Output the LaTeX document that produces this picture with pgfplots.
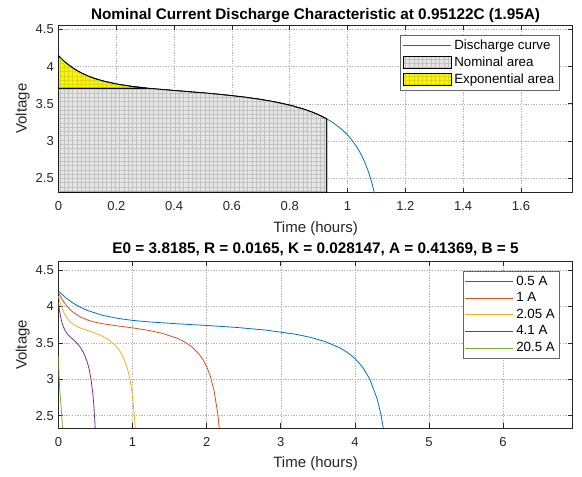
\documentclass[border=0pt]{standalone}
\usepackage{fontspec}
\setmainfont{Liberation Sans}
\usepackage{pgfplots}
\pgfplotsset{compat=1.18}
\usetikzlibrary{patterns.meta}
\definecolor{mblue}{rgb}{0,0.447,0.741}
\definecolor{morange}{rgb}{0.85,0.325,0.098}
\definecolor{myellow}{rgb}{0.929,0.694,0.125}
\definecolor{mpurple}{rgb}{0.494,0.184,0.556}
\definecolor{mgreen}{rgb}{0.466,0.674,0.188}
\definecolor{axisgray}{rgb}{0.15,0.15,0.15}
\definecolor{nomgray}{rgb}{0.9,0.9,0.9}
\definecolor{nomline}{rgb}{0.76,0.76,0.76}
\definecolor{expline}{rgb}{0.85,0.85,0.1}
\pgfplotsset{mystyle/.style={
  scale only axis, width=385.65pt, anchor=south west,
  axis line style={color=axisgray, line width=0.5pt},
  tick style={color=axisgray, line width=0.5pt},
  tick align=inside, xtick pos=both, ytick pos=both, major tick length=3.5pt,
  grid=major, major grid style={gray!60, line width=0.4pt, dash pattern=on 1pt off 1pt},
  ticklabel style={font=\fontsize{9.75}{11}\selectfont, color=axisgray},
  xticklabel style={yshift=-3.5pt},
  /pgf/number format/assume math mode=true,
  xlabel style={font=\fontsize{11.25}{13}\selectfont, color=axisgray, yshift=-1pt},
  ylabel style={font=\fontsize{11.25}{13}\selectfont, color=axisgray, yshift=-2.4pt},
  title style={font=\fontsize{11.5}{13}\selectfont\bfseries},
  legend style={font=\fontsize{10}{12}\selectfont, draw=black!60, line width=0.5pt, fill=white,
     inner sep=1.5pt, row sep=0pt, legend cell align=left},
  legend image code/.code={\draw[##1] (0pt,0pt) -- (36pt,0pt);},
  every axis plot/.append style={line width=0.6pt},
}}
\pgfplotsset{arealegend/.style={legend image code/.code={\draw[##1] (0pt,-4.5pt) rectangle (36pt,4.5pt);}}}
\begin{document}
\begin{tikzpicture}
\useasboundingbox (0,0) rectangle (436.5pt,357.75pt);
\begin{axis}[mystyle, at={(43.875pt,213.525pt)}, height=125.475pt,
  xmin=0, xmax=1.779, ymin=2.312, ymax=4.558,
  xtick={0,0.2,0.4,0.6,0.8,1,1.2,1.4,1.6}, ytick={2.5,3,3.5,4,4.5},
  title={Nominal Current Discharge Characteristic at 0.95122C (1.95A)},
  title style={yshift=-7.5pt},
  xlabel={Time (hours)}, ylabel={Voltage},
  legend style={at={(0.974,0.94)}, anchor=north east}]
\addplot[mblue] coordinates {
(0,4.1451) (0.02,4.06978) (0.035,4.02187) (0.05,3.9803) (0.065,3.94399) (0.08,3.9124)
(0.1,3.8764) (0.12,3.84673) (0.15,3.8099) (0.2,3.7660) (0.25,3.7355) (0.3,3.7130)
(0.35,3.69479) (0.4,3.6787) (0.45,3.66313) (0.5,3.6470) (0.55,3.62945) (0.6,3.6096)
(0.65,3.58638) (0.7,3.5587) (0.75,3.52479) (0.8,3.4822) (0.85,3.4269) (0.88,3.38504)
(0.9,3.3523) (0.93,3.2935) (0.95,3.2459) (0.98,3.15713) (1.0,3.0819) (1.01,3.03786)
(1.03,2.9327) (1.04,2.86908) (1.05,2.7961) (1.06,2.71145) (1.07,2.6120) (1.075,2.55548)
(1.08,2.4934) (1.085,2.42542) (1.09,2.3501) (1.095,2.2663)};
\addlegendentry{Discharge curve}
\addplot[arealegend, draw=black, fill=nomgray,
  postaction={pattern={Hatch[angle=0,distance=3.2pt,line width=0.3pt]}, pattern color=nomline}]
  coordinates {
(0,2.312) (0,3.71) (0.305,3.71) (0.35,3.69479) (0.4,3.6787) (0.45,3.66313) (0.5,3.6470)
(0.55,3.62945) (0.6,3.6096) (0.65,3.58638) (0.7,3.5587) (0.75,3.52479) (0.8,3.4822)
(0.85,3.4269) (0.88,3.38504) (0.9,3.3523) (0.928,3.29781) (0.928,2.312)} -- cycle;
\addlegendentry{Nominal area}
\addplot[arealegend, draw=black, fill=yellow,
  postaction={pattern={Hatch[angle=0,distance=3.2pt,line width=0.3pt]}, pattern color=expline}]
  coordinates {
(0,3.71) (0,4.1451) (0.02,4.06978) (0.035,4.02187) (0.05,3.9803) (0.065,3.94399)
(0.08,3.9124) (0.1,3.8764) (0.12,3.84673) (0.15,3.8099) (0.2,3.7660) (0.25,3.7355)
(0.3,3.7130) (0.305,3.71)} -- cycle;
\addlegendentry{Exponential area}
\end{axis}
\begin{axis}[mystyle, at={(43.875pt,36.75pt)}, height=124.725pt,
  xmin=0, xmax=6.94, ymin=2.331, ymax=4.614,
  xtick={0,1,2,3,4,5,6}, ytick={2.5,3,3.5,4,4.5},
  title={E0 = 3.8185, R = 0.0165, K = 0.028147, A = 0.41369, B = 5},
  title style={yshift=-5pt},
  xlabel={Time (hours)}, ylabel={Voltage},
  legend style={at={(0.975,0.944)}, anchor=north east}]
\addplot[mblue] coordinates {
(0,4.20987) (0.1,4.11661) (0.2,4.04352) (0.3,3.98609) (0.4,3.94087) (0.6,3.87668)
(0.8,3.83560) (1.0,3.80829) (1.2,3.78903) (1.6,3.76185) (2.0,3.73859) (2.4,3.71170)
(2.8,3.67487) (3.2,3.61808) (3.4,3.57575) (3.6,3.51702) (3.8,3.42963) (3.9,3.36776)
(4.0,3.2859) (4.1,3.17255) (4.2,3.00524) (4.3,2.73334) (4.35,2.52189) (4.38,2.35272)
(4.39,2.28652)};
\addlegendentry{0.5 A}
\addplot[morange] coordinates {
(0,4.18754) (0.05,4.09397) (0.1,4.02056) (0.15,3.96279) (0.2,3.91721) (0.3,3.85226)
(0.4,3.81033) (0.5,3.78208) (0.6,3.76176) (0.8,3.73207) (1.0,3.70552) (1.2,3.67416)
(1.4,3.6309) (1.6,3.56404) (1.7,3.51421) (1.8,3.44503) (1.9,3.34209) (1.95,3.2692)
(2.0,3.17278) (2.05,3.03926) (2.1,2.84218) (2.15,2.5219) (2.175,2.27282)};
\addlegendentry{1 A}
\addplot[myellow] coordinates {
(0,4.14067) (0.02439,4.04644) (0.04878,3.97234) (0.07317,3.91387) (0.09756,3.86754)
(0.14634,3.80097) (0.19512,3.75727) (0.2439,3.72703) (0.29268,3.70451) (0.39024,3.66954)
(0.4878,3.63608) (0.58537,3.59533) (0.68293,3.53855) (0.78049,3.45056) (0.82927,3.38497)
(0.87805,3.29384) (0.92683,3.15825) (0.95122,3.06224) (0.97561,2.93523) (1.0,2.75935)
(1.02439,2.49976) (1.03659,2.31733) (1.03902,2.27478)};
\addlegendentry{2.05 A}
\addplot[mpurple] coordinates {
(0,4.04914) (0.0122,3.95363) (0.02439,3.8782) (0.03659,3.81833) (0.04878,3.77054)
(0.07317,3.70083) (0.09756,3.65365) (0.12195,3.61956) (0.14634,3.59274) (0.19512,3.54744)
(0.2439,3.50051) (0.29268,3.44142) (0.34146,3.35825) (0.39024,3.22900) (0.41463,3.13263)
(0.43902,2.99866) (0.46341,2.79931) (0.47561,2.65816) (0.4878,2.47144) (0.49512,2.3274)
(0.5,2.21786)};
\addlegendentry{4.1 A}
\addplot[mgreen] coordinates {
(0,3.31693) (0.004878,3.1251) (0.009756,2.99457) (0.014634,2.89972) (0.019512,2.82476)
(0.02439,2.75983) (0.02927,2.69856) (0.03902,2.57065) (0.04878,2.41591) (0.05366,2.32124)
(0.05854,2.21016)};
\addlegendentry{20.5 A}
\end{axis}
\end{tikzpicture}
\end{document}
